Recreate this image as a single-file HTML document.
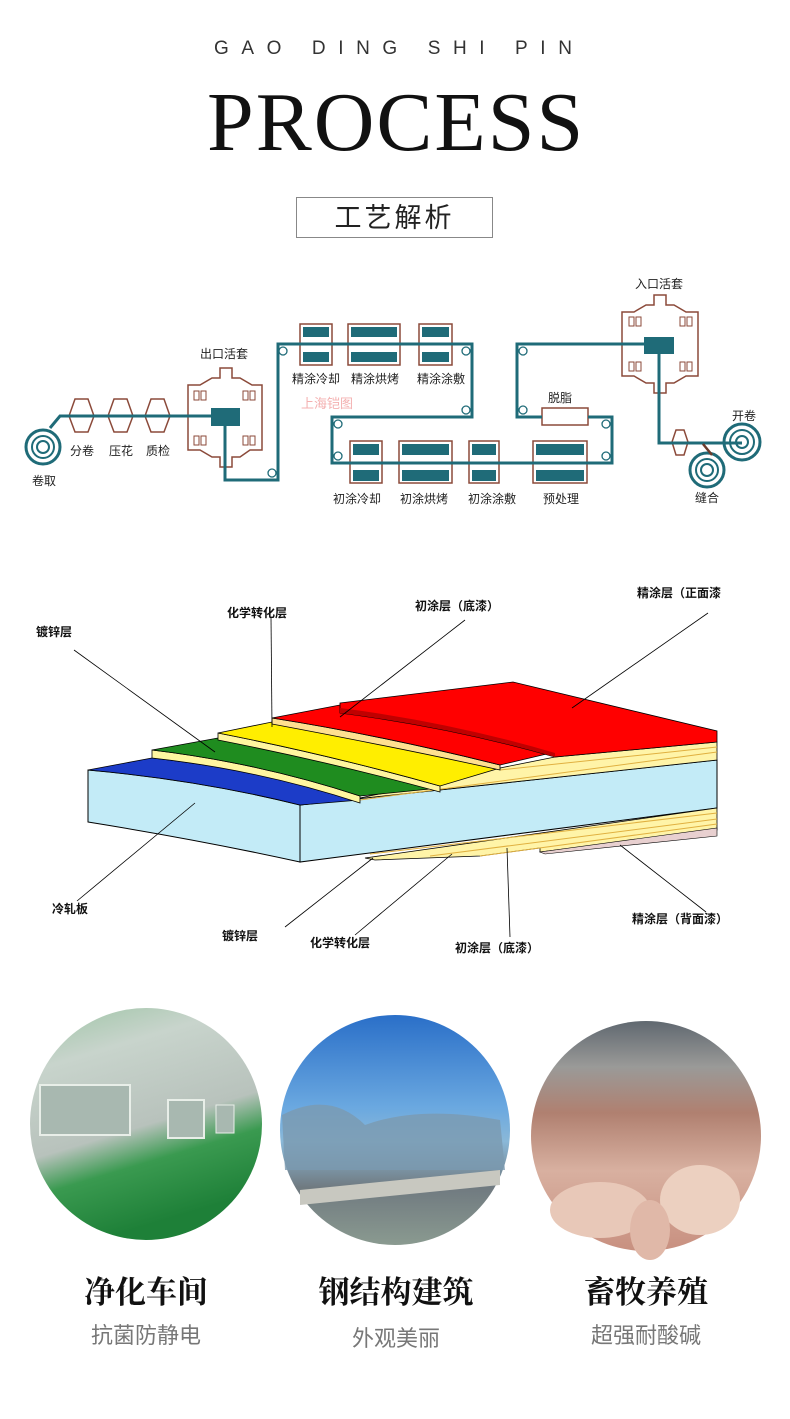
<!DOCTYPE html>
<html><head><meta charset="utf-8"><style>
body{margin:0;background:#fff;width:790px;height:1419px;overflow:hidden;position:relative;font-family:"Liberation Sans","Noto Sans CJK SC",sans-serif}
.a{position:absolute;white-space:nowrap}
</style></head><body>
<div class="a" style="left:214px;top:38px;font-size:19px;letter-spacing:12.6px;color:#333">GAO DING SHI PIN</div>
<div class="a" style="left:207px;top:78px;font-family:'Liberation Serif',serif;font-size:84px;letter-spacing:2px;color:#111;line-height:90px">PROCESS</div>
<div class="a" style="left:296px;top:197px;width:197px;height:41px;border:1px solid #888;box-sizing:border-box;text-align:center;font-size:27px;line-height:40px;letter-spacing:3px;color:#222">工艺解析</div>

<svg class="a" style="left:0;top:0" width="790" height="1419" font-family="Liberation Sans,Noto Sans CJK SC,sans-serif">
<g fill="none" stroke="#8b4a3a" stroke-width="1.5">
<polygon points="69,416 75,399 88,399 94,416 88,432 75,432"/>
<polygon points="108,416 114,399 127,399 133,416 127,432 114,432"/>
<polygon points="145,416 151,399 164,399 170,416 164,432 151,432"/>
<polygon points="672,442 676,430 684,430 688,442 684,455 676,455"/>
<path d="M188,385 L200,385 L212,378 L220,378 L220,368 L232,368 L232,378 L240,378 L252,385 L262,385 L262,450 L250,450 L240,457 L232,457 L232,467 L220,467 L220,457 L212,457 L200,450 L188,450 Z"/>
<path d="M622,312 L634,312 L646,305 L654,305 L654,295 L666,295 L666,305 L674,305 L686,312 L698,312 L698,376 L686,376 L674,383 L666,383 L666,393 L654,393 L654,383 L646,383 L634,376 L622,376 Z"/>
<rect x="542" y="408" width="46" height="17" fill="#fff"/>
<rect x="300" y="324" width="32" height="41"/><rect x="348" y="324" width="52" height="41"/><rect x="419" y="324" width="33" height="41"/>
<rect x="350" y="441" width="32" height="42"/><rect x="399" y="441" width="53" height="42"/><rect x="469" y="441" width="30" height="42"/><rect x="533" y="441" width="54" height="42"/>
</g>
<g fill="none" stroke="#8b4a3a" stroke-width="1">
<rect x="194" y="391" width="5" height="9"/><rect x="201" y="391" width="5" height="9"/><rect x="243" y="391" width="5" height="9"/><rect x="250" y="391" width="5" height="9"/>
<rect x="194" y="436" width="5" height="9"/><rect x="201" y="436" width="5" height="9"/><rect x="243" y="436" width="5" height="9"/><rect x="250" y="436" width="5" height="9"/>
<rect x="629" y="317" width="5" height="9"/><rect x="636" y="317" width="5" height="9"/><rect x="680" y="317" width="5" height="9"/><rect x="687" y="317" width="5" height="9"/>
<rect x="629" y="362" width="5" height="9"/><rect x="636" y="362" width="5" height="9"/><rect x="680" y="362" width="5" height="9"/><rect x="687" y="362" width="5" height="9"/>
</g>
<g fill="#1f6b78">
<rect x="303" y="327" width="26" height="10"/><rect x="303" y="352" width="26" height="10"/>
<rect x="351" y="327" width="46" height="10"/><rect x="351" y="352" width="46" height="10"/>
<rect x="422" y="327" width="27" height="10"/><rect x="422" y="352" width="27" height="10"/>
<rect x="353" y="444" width="26" height="11"/><rect x="353" y="470" width="26" height="11"/>
<rect x="402" y="444" width="47" height="11"/><rect x="402" y="470" width="47" height="11"/>
<rect x="472" y="444" width="24" height="11"/><rect x="472" y="470" width="24" height="11"/>
<rect x="536" y="444" width="48" height="11"/><rect x="536" y="470" width="48" height="11"/>
<rect x="211" y="408" width="29" height="18"/><rect x="644" y="337" width="30" height="17"/>
</g>
<g fill="none" stroke="#1f6b78" stroke-width="3">
<polyline points="50,428 60,416 213,416"/>
<polyline points="225,420 225,480 278,480 278,344 472,344 472,417 332,417 332,463 612,463 612,417 588,417"/>
<polyline points="542,417 517,417 517,344 650,344"/>
<polyline points="659,345 659,443 742,443"/>
<circle cx="43" cy="447" r="17"/><circle cx="43" cy="447" r="11" stroke-width="2"/><circle cx="43" cy="447" r="6" stroke-width="2"/>
<circle cx="742" cy="442" r="18"/><circle cx="742" cy="442" r="12" stroke-width="2"/><circle cx="742" cy="442" r="6" stroke-width="2"/>
<circle cx="707" cy="470" r="17"/><circle cx="707" cy="470" r="11" stroke-width="2"/><circle cx="707" cy="470" r="6" stroke-width="2"/>
<g stroke-width="1.3"><circle cx="272" cy="473" r="4"/><circle cx="283" cy="351" r="4"/><circle cx="466" cy="351" r="4"/><circle cx="466" cy="410" r="4"/><circle cx="338" cy="424" r="4"/><circle cx="338" cy="456" r="4"/><circle cx="606" cy="424" r="4"/><circle cx="606" cy="456" r="4"/><circle cx="523" cy="351" r="4"/><circle cx="523" cy="410" r="4"/></g>
</g>
<line x1="703" y1="444" x2="712" y2="455" stroke="#6b3a2a" stroke-width="2.5"/>
<g font-size="12" fill="#222" text-anchor="middle">
<text x="44" y="485">卷取</text><text x="82" y="455">分卷</text><text x="121" y="455">压花</text><text x="158" y="455">质检</text>
<text x="224" y="358">出口活套</text><text x="659" y="288">入口活套</text>
<text x="316" y="383">精涂冷却</text><text x="375" y="383">精涂烘烤</text><text x="441" y="383">精涂涂敷</text>
<text x="560" y="402">脱脂</text>
<text x="357" y="503">初涂冷却</text><text x="424" y="503">初涂烘烤</text><text x="492" y="503">初涂涂敷</text><text x="561" y="503">预处理</text>
<text x="744" y="420">开卷</text><text x="707" y="502">缝合</text>
</g>
<text x="301" y="408" font-size="13" fill="#f4b0b0">上海铠图</text>

<path d="M300,805 L717,760 L717,808 L300,862 Z" fill="#c3ebf7" stroke="#000" stroke-width="1"/>
<path d="M88,770 Q200,780 300,805 L300,862 Q200,840 88,822 Z" fill="#c3ebf7" stroke="#000" stroke-width="1"/>
<path d="M365,858 L717,808 L717,830 L540,852 L540,848 L480,856 L375,860 Z" fill="#fff4a8" stroke="#000" stroke-width="0.8"/>
<path d="M540,852 L717,828 L717,836 L545,854Z" fill="#e8d0d0" stroke="#000" stroke-width="0.6"/>
<line x1="370" y1="854" x2="717" y2="813" stroke="#e0b040"/><line x1="430" y1="856" x2="717" y2="819" stroke="#e0b040"/><line x1="480" y1="856" x2="717" y2="824" stroke="#e0b040"/>
<path d="M300,805 L360,798 L500,768 L555,757 L717,742 L717,760 Z" fill="#fff4a8" stroke="#000" stroke-width="0.8"/>
<line x1="360" y1="800" x2="717" y2="752" stroke="#e0b040"/><line x1="500" y1="770" x2="717" y2="747" stroke="#e0b040"/>
<path d="M88,770 L152,758 Q260,770 360,800 L300,805 Q200,780 88,770 Z" fill="#1c3cc8" stroke="#000" stroke-width="0.8"/>
<path d="M152,750 L152,758 Q260,770 360,803 L360,796 Q260,763 152,750 Z" fill="#fff6a0" stroke="#000" stroke-width="0.8"/>
<path d="M152,750 L218,738 Q330,760 440,788 L360,796 Q260,763 152,750 Z" fill="#1f8c1f" stroke="#000" stroke-width="0.8"/>
<path d="M218,733 L218,740 Q330,762 440,792 L440,786 Q330,755 218,733 Z" fill="#fff6a0" stroke="#000" stroke-width="0.8"/>
<path d="M218,733 L272,722 Q400,745 500,768 L440,786 Q330,755 218,733 Z" fill="#ffee00" stroke="#000" stroke-width="0.8"/>
<path d="M272,718 L272,724 Q400,748 500,770 L500,765 Q380,735 272,718 Z" fill="#ffe090" stroke="#000" stroke-width="0.8"/>
<path d="M272,718 L340,705 L555,752 L500,765 Q380,735 272,718 Z" fill="#ff0000" stroke="#000" stroke-width="0.8"/>
<path d="M340,703 L513,682 L717,731 L717,742 L555,757 Q450,727 340,713 Z" fill="#ff0000" stroke="#000" stroke-width="0.8"/>
<path d="M340,713 Q450,727 555,757 L555,753 Q450,722 340,708Z" fill="#c00000"/>
<g stroke="#000" stroke-width="0.8" fill="none">
<line x1="74" y1="650" x2="215" y2="752"/><line x1="271" y1="617" x2="272" y2="727"/><line x1="465" y1="620" x2="340" y2="717"/><line x1="708" y1="613" x2="572" y2="708"/>
<line x1="195" y1="803" x2="77" y2="901"/><line x1="373" y1="858" x2="285" y2="927"/><line x1="452" y1="854" x2="355" y2="935"/><line x1="507" y1="848" x2="510" y2="937"/><line x1="620" y1="845" x2="706" y2="912"/>
</g>
<g font-size="12" fill="#111" font-weight="bold">
<text x="36" y="636">镀锌层</text><text x="227" y="617">化学转化层</text><text x="415" y="610">初涂层（底漆）</text><text x="637" y="597">精涂层（正面漆</text>
<text x="52" y="913">冷轧板</text><text x="222" y="940">镀锌层</text><text x="310" y="947">化学转化层</text><text x="455" y="952">初涂层（底漆）</text><text x="632" y="923">精涂层（背面漆）</text>
</g>

<defs>
<linearGradient id="g1" x1="0" y1="0" x2="0.3" y2="1"><stop offset="0" stop-color="#9cc4a4"/><stop offset="0.25" stop-color="#c8d4cc"/><stop offset="0.6" stop-color="#b8c2bc"/><stop offset="0.75" stop-color="#3a9a50"/><stop offset="1" stop-color="#1e8038"/></linearGradient>
<linearGradient id="g2" x1="0" y1="0" x2="0" y2="1"><stop offset="0" stop-color="#2a6fc8"/><stop offset="0.4" stop-color="#6aa8e0"/><stop offset="0.55" stop-color="#8ab8d8"/><stop offset="0.75" stop-color="#707a80"/><stop offset="1" stop-color="#8a9a90"/></linearGradient>
<linearGradient id="g3" x1="0" y1="0" x2="0" y2="1"><stop offset="0" stop-color="#606870"/><stop offset="0.2" stop-color="#9a9a98"/><stop offset="0.4" stop-color="#b08070"/><stop offset="0.65" stop-color="#d8b0a0"/><stop offset="1" stop-color="#c89080"/></linearGradient>
</defs>
<circle cx="146" cy="1124" r="116" fill="url(#g1)"/>
<rect x="40" y="1085" width="90" height="50" fill="#a8b8b0" stroke="#e8eee8" stroke-width="2"/><rect x="168" y="1100" width="36" height="38" fill="#a8b8b0" stroke="#e8eee8" stroke-width="2"/><rect x="216" y="1105" width="18" height="28" fill="#a8b8b0" stroke="#e8eee8"/>
<circle cx="395" cy="1130" r="115" fill="url(#g2)"/>
<path d="M282,1115 Q330,1090 365,1125 Q420,1105 500,1120 L505,1170 L285,1170 Z" fill="#7a9ab0" opacity="0.8"/>
<path d="M300,1190 L500,1170 L500,1185 L300,1205Z" fill="#c8c8c0"/>
<circle cx="646" cy="1136" r="115" fill="url(#g3)"/>
<ellipse cx="600" cy="1210" rx="50" ry="28" fill="#e8c8b8"/><ellipse cx="700" cy="1200" rx="40" ry="35" fill="#ecd0c0"/><ellipse cx="650" cy="1230" rx="20" ry="30" fill="#e0b8a8"/>
<g text-anchor="middle">
<text x="146" y="1303" font-family="Noto Serif CJK SC,serif" font-weight="bold" font-size="31" fill="#111">净化车间</text>
<text x="396" y="1303" font-family="Noto Serif CJK SC,serif" font-weight="bold" font-size="31" fill="#111">钢结构建筑</text>
<text x="646" y="1303" font-family="Noto Serif CJK SC,serif" font-weight="bold" font-size="31" fill="#111">畜牧养殖</text>
<text x="146" y="1343" font-size="22" fill="#777">抗菌防静电</text>
<text x="396" y="1346" font-size="22" fill="#777">外观美丽</text>
<text x="646" y="1343" font-size="22" fill="#777">超强耐酸碱</text>
</g>
</svg>
</body></html>
